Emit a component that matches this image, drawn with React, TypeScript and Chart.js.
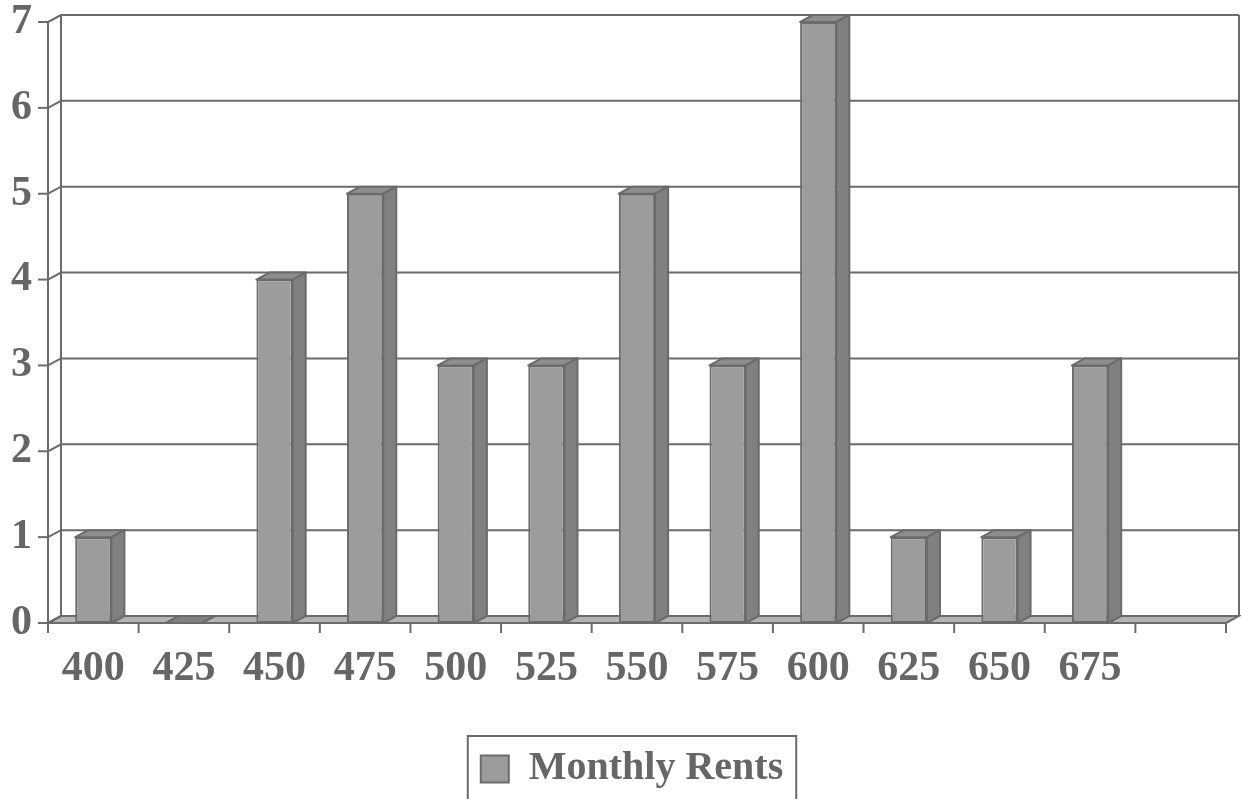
import React, { useEffect, useRef } from "react";
import { Chart, registerables } from "chart.js";

Chart.register(...registerables);

const categories: string[] = ["400", "425", "450", "475", "500", "525", "550", "575", "600", "625", "650", "675", ""];
const rentCounts: (number | null)[] = [1, 0, 4, 5, 3, 3, 5, 3, 7, 1, 1, 3, null];
const yTicks: number[] = [0, 1, 2, 3, 4, 5, 6, 7];
const seriesName = "Monthly Rents";

const DX = 13;
const DY = 7;
const LINE = "#6b6b6b";
const TEXT = "#666666";
const FRONT = "#9c9c9c";
const SIDE = "#808080";
const TOP = "#8e8e8e";
const FLOOR = "#b4b4b4";
const FONT = "'Liberation Serif', 'Times New Roman', serif";
const LEGEND_SHIFT = 19;

const wallPlugin = {
  id: "wall3d",
  afterLayout(chart: any) {
    const lg = chart.legend;
    if (lg) {
      lg.left += LEGEND_SHIFT;
      lg.right += LEGEND_SHIFT;
    }
  },
  beforeDatasetsDraw(chart: any) {
    const { ctx, chartArea, scales } = chart;
    const { left, right, top, bottom } = chartArea;
    const y = scales.y;
    ctx.save();
    ctx.lineWidth = 2;
    ctx.strokeStyle = LINE;
    // floor
    ctx.beginPath();
    ctx.moveTo(left, bottom);
    ctx.lineTo(left + DX, bottom - DY);
    ctx.lineTo(right + DX, bottom - DY);
    ctx.lineTo(right, bottom);
    ctx.closePath();
    ctx.fillStyle = FLOOR;
    ctx.fill();
    ctx.stroke();
    // back wall gridlines + side wall diagonals
    yTicks.forEach((v) => {
      const py = y.getPixelForValue(v);
      ctx.beginPath();
      ctx.moveTo(left, py);
      ctx.lineTo(left + DX, py - DY);
      if (v > 0) ctx.lineTo(right + DX, py - DY);
      ctx.stroke();
      ctx.beginPath();
      ctx.moveTo(left - 10, py);
      ctx.lineTo(left, py);
      ctx.stroke();
    });
    ctx.beginPath();
    ctx.moveTo(left + DX, top - DY);
    ctx.lineTo(left + DX, bottom - DY);
    ctx.moveTo(right + DX, top - DY);
    ctx.lineTo(right + DX, bottom - DY);
    ctx.moveTo(left, top);
    ctx.lineTo(left, bottom + 10);
    ctx.stroke();
    const n = categories.length;
    const step = (right - left) / n;
    ctx.beginPath();
    for (let i = 1; i <= n; i++) {
      const px = left + i * step;
      ctx.moveTo(px, bottom);
      ctx.lineTo(px, bottom + 10);
    }
    ctx.stroke();
    ctx.restore();
  },
  afterDatasetsDraw(chart: any) {
    const { ctx } = chart;
    const meta = chart.getDatasetMeta(0);
    ctx.save();
    ctx.lineWidth = 2;
    ctx.strokeStyle = LINE;
    ctx.lineJoin = "round";
    meta.data.forEach((bar: any, i: number) => {
      const v = rentCounts[i];
      if (v === null || v === undefined) return;
      const { x, y, base, width } = bar.getProps(["x", "y", "base", "width"], true);
      const xl = x - width / 2;
      const xr = x + width / 2;
      ctx.beginPath();
      ctx.moveTo(xl, y);
      ctx.lineTo(xl + DX, y - DY);
      ctx.lineTo(xr + DX, y - DY);
      ctx.lineTo(xr, y);
      ctx.closePath();
      ctx.fillStyle = v === 0 ? SIDE : TOP;
      ctx.fill();
      ctx.stroke();
      if (v > 0) {
        ctx.beginPath();
        ctx.moveTo(xr, y);
        ctx.lineTo(xr + DX, y - DY);
        ctx.lineTo(xr + DX, base - DY);
        ctx.lineTo(xr, base);
        ctx.closePath();
        ctx.fillStyle = SIDE;
        ctx.fill();
        ctx.stroke();
      }
    });
    ctx.restore();
  },
  afterDraw(chart: any) {
    const legend = chart.legend;
    if (!legend || !legend.legendHitBoxes || !legend.legendHitBoxes.length) return;
    const hb = legend.legendHitBoxes[0];
    const { ctx } = chart;
    ctx.save();
    ctx.lineWidth = 2;
    ctx.strokeStyle = LINE;
    ctx.strokeRect(hb.left - 13, hb.top - 13, hb.width + 26, hb.height + 60);
    ctx.restore();
  },
};

export default function App() {
  const ref = useRef<HTMLCanvasElement | null>(null);
  useEffect(() => {
    if (!ref.current) return;
    const chart = new Chart(ref.current, {
      type: "bar",
      data: {
        labels: categories,
        datasets: [
          {
            label: seriesName,
            data: rentCounts,
            backgroundColor: FRONT,
            borderColor: LINE,
            borderWidth: 2,
            borderSkipped: false,
            barPercentage: 0.4,
            categoryPercentage: 1,
          },
        ],
      },
      options: {
        responsive: false,
        animation: false,
        layout: { padding: { left: 0, right: 15, top: 22, bottom: 0 } },
        plugins: {
          tooltip: { enabled: false },
          legend: {
            position: "bottom",
            labels: {
              color: TEXT,
              font: { family: FONT, size: 40, weight: "bold" },
              boxWidth: 28,
              boxHeight: 27,
              padding: 10,
            },
          },
        },
        scales: {
          x: {
            grid: { display: false, drawTicks: false },
            border: { display: false },
            ticks: {
              color: TEXT,
              font: { family: FONT, size: 42, weight: "bold" },
              padding: 21,
              maxRotation: 0,
              autoSkip: false,
            },
            afterFit: (scale: any) => {
              scale.height = 116;
              scale.paddingLeft = 0;
              scale.paddingRight = 0;
            },
          },
          y: {
            min: 0,
            max: 7,
            grid: { display: false, drawTicks: false },
            border: { display: false },
            ticks: {
              stepSize: 1,
              color: TEXT,
              font: { family: FONT, size: 42, weight: "bold" },
              padding: 16,
            },
            afterFit: (scale: any) => {
              scale.width = 48;
              scale.paddingTop = 0;
              scale.paddingBottom = 0;
            },
          },
        },
      },
      plugins: [wallPlugin],
    });
    return () => chart.destroy();
  }, []);
  return (
    <div style={{ position: "fixed", left: 0, top: 0, width: 1241, height: 799, background: "#fff" }}>
      <canvas ref={ref} width={1241} height={799} />
    </div>
  );
}
